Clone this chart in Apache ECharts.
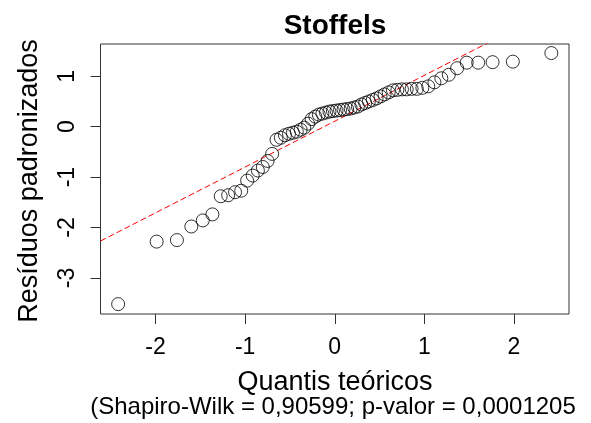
<!DOCTYPE html>
<html>
<head>
<meta charset="utf-8">
<script src="https://cdn.jsdelivr.net/npm/echarts@6/dist/echarts.min.js"></script>
<style>html,body{margin:0;padding:0;background:#fff;}#c{width:591px;height:423px;}</style>
</head>
<body>
<div id="c"></div>
<script>
// Theoretical quantiles (x)
var theoQuantiles = [
  -2.418,-1.988,-1.762,-1.601,-1.473,-1.366,-1.273,-1.190,-1.113,-1.044,
  -0.978,-0.916,-0.858,-0.803,-0.750,-0.699,-0.650,-0.602,-0.556,-0.511,
  -0.467,-0.424,-0.381,-0.340,-0.298,-0.258,-0.217,-0.178,-0.138,-0.098,
  -0.059,-0.020,0.020,0.059,0.098,0.138,0.178,0.217,0.258,0.298,
  0.340,0.381,0.424,0.467,0.511,0.556,0.602,0.650,0.699,0.750,
  0.803,0.858,0.916,0.978,1.044,1.113,1.190,1.273,1.366,1.473,
  1.601,1.762,1.988,2.418
];
// Standardized residuals (y), sorted
var residuals = [
  -3.52,-2.28,-2.25,-1.98,-1.86,-1.74,-1.38,-1.36,-1.30,-1.27,
  -1.07,-0.97,-0.87,-0.80,-0.68,-0.54,-0.26,-0.22,-0.17,-0.14,
  -0.12,-0.10,-0.06,-0.02,0.06,0.15,0.20,0.24,0.26,0.28,
  0.30,0.31,0.32,0.33,0.34,0.35,0.36,0.38,0.40,0.44,
  0.47,0.50,0.53,0.56,0.60,0.64,0.68,0.72,0.73,0.74,
  0.74,0.75,0.75,0.77,0.80,0.88,0.96,1.03,1.16,1.27,
  1.27,1.28,1.29,1.46
];
var xTicks = [-2,-1,0,1,2];
var yTicks = [-3,-2,-1,0,1];
var lineIntercept = 0.109;
var lineSlope = 0.909;
var xRange = [-2.615, 2.615];
var yRange = [-3.716, 1.64];

var pts = theoQuantiles.map(function(x,i){return [x, residuals[i]];});
var linePts = [[xRange[0], lineIntercept + lineSlope*xRange[0]],[xRange[1], lineIntercept + lineSlope*xRange[1]]];

var chart = echarts.init(document.getElementById('c'), null, {renderer:'canvas'});
var FONT = '"Liberation Sans", Arial, sans-serif';
chart.setOption({
  animation:false,
  backgroundColor:'#fff',
  grid:{left:100.5, right:22, top:44, bottom:109, show:true, borderColor:'#333', borderWidth:1, backgroundColor:'transparent'},
  xAxis:{type:'value', min:xRange[0], max:xRange[1],
    axisLine:{show:false, onZero:false}, splitLine:{show:false},
    axisTick:{show:true, length:10, customValues:xTicks, lineStyle:{color:'#333'}},
    axisLabel:{customValues:xTicks, fontSize:23, color:'#000', fontFamily:FONT, margin:22}
  },
  yAxis:{type:'value', min:yRange[0], max:yRange[1],
    axisLine:{show:false, onZero:false}, splitLine:{show:false},
    axisTick:{show:true, length:10, customValues:yTicks, lineStyle:{color:'#333'}},
    axisLabel:{customValues:yTicks, fontSize:23, color:'#000', fontFamily:FONT, rotate:90, margin:21}
  },
  series:[
    {type:'line', data:linePts, symbol:'none', clip:true, z:1,
     lineStyle:{color:'#ff0000', width:1, type:[6,3]}},
    {type:'scatter', data:pts, symbol:'circle', symbolSize:13, z:2,
     itemStyle:{color:'rgba(0,0,0,0)', borderColor:'#000', borderWidth:1}}
  ],
  graphic:[
    {type:'text', x:335, y:26, style:{text:'Stoffels', font:'bold 28px '+FONT, fill:'#000', textAlign:'center', textVerticalAlign:'middle'}},
    {type:'text', x:335, y:383, style:{text:'Quantis teóricos', font:'27px '+FONT, fill:'#000', textAlign:'center', textVerticalAlign:'middle'}},
    {type:'text', x:333, y:407, style:{text:'(Shapiro-Wilk = 0,90599; p-valor = 0,0001205', font:'24px '+FONT, fill:'#000', textAlign:'center', textVerticalAlign:'middle'}},
    {type:'text', x:30, y:181, rotation:Math.PI/2, style:{text:'Resíduos padronizados', font:'27px '+FONT, fill:'#000', textAlign:'center', textVerticalAlign:'middle'}}
  ]
});
</script>
</body>
</html>
